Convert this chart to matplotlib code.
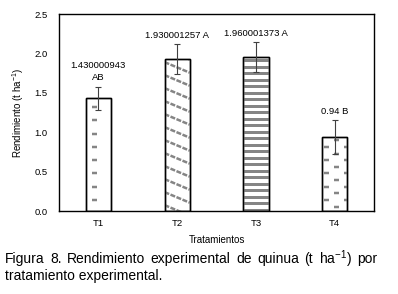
import numpy as np
import matplotlib.pyplot as plt
from matplotlib.collections import LineCollection
from matplotlib.transforms import IdentityTransform

plt.rcParams['font.family'] = ['Liberation Sans', 'DejaVu Sans']
plt.rcParams['mathtext.default'] = 'regular'

# data
treatments = ['T1', 'T2', 'T3', 'T4']
yield_t_ha = [1.430000943, 1.930001257, 1.960001373, 0.94]
errors = [0.15, 0.185, 0.19, 0.22]
labels = ['1.430000943\nAB', '1.930001257 A', '1.960001373 A', '0.94 B']
patterns = ['column', 'diagonal', 'stripes', 'lattice']

GRAY = '#858585'
PT = 72 / 100  # points per pixel at dpi 100


def dash_rows(x_center, y0, y1, offset, period=13.3, size=5):
    """Short horizontal dashes stacked in one column (pixel coords)."""
    ys = np.arange(y0 + offset, y1 + period, period)
    return [[(x_center - size / 2, y), (x_center + size / 2, y)] for y in ys]


def pattern_segments(kind, x0, y0, x1, y1):
    w = x1 - x0
    if kind == 'column':
        return dash_rows(x0 + 0.36 * w, y0, y1, 11), None
    if kind == 'lattice':
        segs = dash_rows(x0 + 0.16 * w, y0, y1, 11)
        segs += dash_rows(x0 + 0.58 * w, y0, y1, 4.3)
        segs += dash_rows(x0 + 0.98 * w, y0, y1, 11)
        return segs, None
    if kind == 'stripes':
        ys = np.arange(y0 + 1.5, y1 + 7, 6.5)
        return [[(x0, y), (x1, y)] for y in ys], None
    # diagonal dashed lines falling to the right
    slope = -0.42
    starts = np.arange(y0 - 20, y1 + 40, 13)
    return [[(x0, y), (x1, y + slope * w)] for y in starts], (0, (5 * PT / 1.8, 1.5 * PT / 1.8))


fig = plt.figure(figsize=(3.98, 2.94), dpi=100)
ax = fig.add_axes([0.148, 0.282, 0.792, 0.670])
ax.set_xlim(-0.5, 3.5)
ax.set_ylim(0, 2.5)

x = np.arange(len(treatments))
bars = ax.bar(x, yield_t_ha, width=0.32, color='white', edgecolor='black',
              linewidth=1.0, zorder=2)

for bar, kind in zip(bars, patterns):
    ext = bar.get_window_extent()
    segs, ls = pattern_segments(kind, ext.x0, ext.y0, ext.x1, ext.y1)
    lw = 3 * PT if kind == 'stripes' else 2.5 * PT
    lc = LineCollection(segs, colors=GRAY, linewidths=lw, capstyle='butt',
                        transform=IdentityTransform(), zorder=2.5)
    if ls is not None:
        lc.set_linestyle(ls)
    ax.add_collection(lc, autolim=False)
    lc.set_clip_path(bar)

# redraw outlines on top of the patterns
ax.bar(x, yield_t_ha, width=0.32, color='none', edgecolor='black',
       linewidth=1.0, zorder=3)
ax.errorbar(x, yield_t_ha, yerr=errors, fmt='none', ecolor='#404040',
            elinewidth=0.8, capsize=2.5, capthick=0.8, zorder=4)

for xi, v, e, lab in zip(x, yield_t_ha, errors, labels):
    ax.annotate(lab, (xi, v + e), xytext=(0, 3), textcoords='offset points',
                ha='center', va='bottom', fontsize=6.8, linespacing=1.5)

ticks = np.arange(0, 2.51, 0.5)
ax.set_yticks(ticks)
ax.set_yticklabels([f'{t:.1f}' for t in ticks])
ax.set_xticks(x)
ax.set_xticklabels(treatments)
ax.tick_params(length=0, labelsize=6.8, pad=6)
ax.tick_params(axis='y', pad=8)
for s in ax.spines.values():
    s.set_linewidth(1.0)

ax.set_xlabel('Tratamientos', fontsize=7, labelpad=5)
ax.set_ylabel('Rendimiento (t ha$^{-1}$)', fontsize=7, labelpad=6)

# caption, first line justified across the page width
renderer = fig.canvas.get_renderer()
words = ['Figura', '8.', 'Rendimiento', 'experimental', 'de', 'quinua',
         '(t', 'ha$^{-1}$)', 'por']
left_px, right_px = 5, 377
texts = [fig.text(0, 0.119, wd, fontsize=10, ha='left', va='center') for wd in words]
widths = [t.get_window_extent(renderer).width for t in texts]
gap = (right_px - left_px - sum(widths)) / (len(words) - 1)
pos = left_px
for t, wdt in zip(texts, widths):
    t.set_x(pos / fig.bbox.width)
    pos += wdt + gap
fig.text(left_px / fig.bbox.width, 0.061, 'tratamiento experimental.',
         fontsize=10, ha='left', va='center')

fig.savefig('out.png', dpi=100)
